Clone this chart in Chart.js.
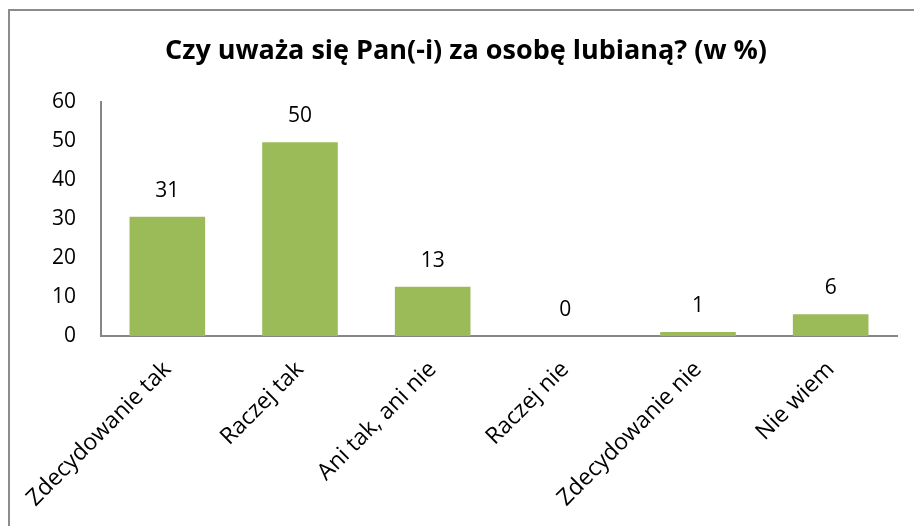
<!DOCTYPE html>
<html><head><meta charset="utf-8">
<script src="https://cdn.jsdelivr.net/npm/chart.js@4/dist/chart.umd.min.js"></script>
<style>html,body{margin:0;padding:0;background:#fff}#wrap{width:914px;height:526px}</style>
</head><body><div id="wrap"><canvas id="c" width="914" height="526"></canvas></div>
<script>
const categories = ["Zdecydowanie tak", "Raczej tak", "Ani tak, ani nie", "Raczej nie", "Zdecydowanie nie", "Nie wiem"];
const values = [30.6, 49.7, 12.6, 0, 1.0, 5.6];
const valueLabels = ["31", "50", "13", "0", "1", "6"];
const yTicks = [0, 10, 20, 30, 40, 50, 60];
const titleText = "Czy uważa się Pan(-i) za osobę lubianą? (w %)";

const FONT = "'Open Sans', 'Liberation Sans', sans-serif";

const frame = {
  id: 'frame',
  beforeDraw(chart) {
    const ctx = chart.ctx;
    ctx.save();
    ctx.fillStyle = '#fff';
    ctx.fillRect(0, 0, chart.width, chart.height);
    ctx.strokeStyle = '#8c8c8c';
    ctx.lineWidth = 2;
    ctx.strokeRect(9, 10, 1000, 1000);
    ctx.font = 'bold 27px ' + FONT;
    ctx.fillStyle = '#000';
    ctx.textAlign = 'center';
    ctx.textBaseline = 'middle';
    ctx.fillText(titleText, 466, 51);
    ctx.restore();
  }
};
const valueLabelPlugin = {
  id: 'valueLabels',
  afterDatasetsDraw(chart) {
    const ctx = chart.ctx;
    const meta = chart.getDatasetMeta(0);
    ctx.save();
    ctx.font = '21px ' + FONT;
    ctx.fillStyle = '#000';
    ctx.textAlign = 'center';
    ctx.textBaseline = 'middle';
    meta.data.forEach((bar, i) => {
      ctx.fillText(valueLabels[i], bar.x, bar.y - 26);
    });
    ctx.restore();
  }
};

new Chart(document.getElementById('c'), {
  type: 'bar',
  data: {
    labels: categories,
    datasets: [{ data: values, backgroundColor: '#9BBB59', categoryPercentage: 1, barPercentage: 0.57 }]
  },
  options: {
    responsive: false,
    animation: false,
    devicePixelRatio: 1,
    layout: { padding: { left: 0, right: 17, top: 102, bottom: 0 } },
    plugins: {
      legend: { display: false },
      tooltip: { enabled: false },
      title: { display: false }
    },
    scales: {
      x: {
        grid: { display: false, drawTicks: false },
        border: { display: true, color: '#868686', width: 2 },
        ticks: { color: '#000', font: { family: FONT, size: 23 }, minRotation: 45, maxRotation: 45, padding: 20, autoSkip: false },
        afterFit(s) { s.height = 526 - 336; }
      },
      y: {
        min: 0, max: 60,
        afterBuildTicks(s) { s.ticks = yTicks.map(v => ({ value: v })); },
        grid: { display: false, drawTicks: false },
        border: { display: true, color: '#868686', width: 2 },
        ticks: { color: '#000', font: { family: FONT, size: 21 }, padding: 25 },
        afterFit(s) { s.width = 101; }
      }
    }
  },
  plugins: [frame, valueLabelPlugin]
});
</script>
</body></html>
